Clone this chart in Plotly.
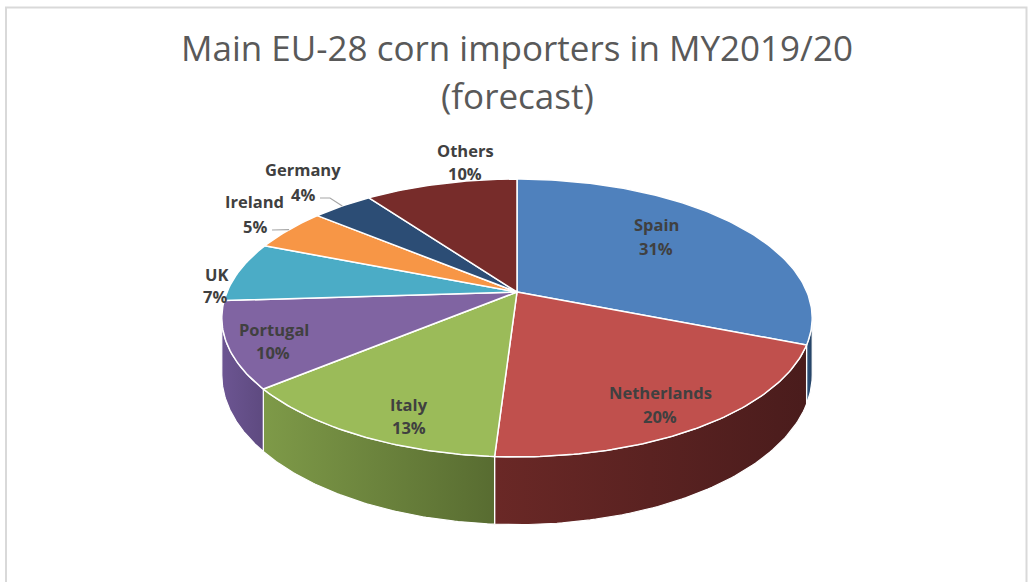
import numpy as np
import plotly.graph_objects as go

# ---------------- data ----------------
countries = ["Spain", "Netherlands", "Italy", "Portugal", "UK", "Ireland", "Germany", "Others"]
shares = [31, 20, 13, 10, 7, 5, 4, 10]          # % of EU-28 corn imports, MY2019/20 forecast

# ---------------- style ----------------
top_colors = ["#4F81BD", "#C0504D", "#9BBB59", "#8064A2", "#4BACC6", "#F79646", "#2C4D75", "#772C2A"]
side_light = ["#2f5580", "#6a2826", "#7e9a48", "#6c5592", "#3a8aa0", "#c7762f", "#22405f", "#5a2120"]
side_dark = ["#233f60", "#4a1c1c", "#586c31", "#5e4a80", "#2e6f80", "#a0602a", "#1a3048", "#451818"]

# label positions (pixel layout of the Excel-style labels)
name_pos = [(656, 224), (660, 392), (409, 404), (274, 329), (216, 274), (254, 201), (303, 169), (465, 150)]
pct_pos = [(656, 248), (660, 416), (409, 427), (273, 352), (215, 296), (255, 226), (303, 194), (465, 173)]
leader = [False, False, False, False, False, True, True, False]

# 3-D pie geometry (perspective ellipse)
CX, CY = 517.0, 292.0
A, B, K = 290.0, 134.1, 0.187
DEPTH = 55.0
W, H = 1028, 582


def proj(theta, r=1.0, dz=0.0):
    theta = np.asarray(theta, dtype=float)
    u = r * np.sin(theta)
    v = r * np.cos(theta)
    w = 1.0 + K * v
    return CX + A * u / w, CY - B * v / w + dz / w


total = float(sum(shares))
cum = np.concatenate([[0.0], np.cumsum(shares)]) / total * 2 * np.pi
th_r = np.arccos(-K)            # right silhouette
th_l = 2 * np.pi - th_r         # left silhouette

fig = go.Figure()

# side walls (front half only)
for i, name in enumerate(countries):
    a, b = cum[i], cum[i + 1]
    lo, hi = max(a, th_r), min(b, th_l)
    if hi <= lo:
        continue
    th = np.linspace(lo, hi, 80)
    tx, ty = proj(th, 1.0, 0.0)
    bx, by = proj(th, 1.0, DEPTH)
    xs = np.concatenate([tx, bx[::-1], tx[:1]])
    ys = np.concatenate([ty, by[::-1], ty[:1]])
    fig.add_trace(go.Scatter(
        x=xs, y=ys, mode="lines", fill="toself",
        fillgradient=dict(type="horizontal",
                          colorscale=[[0, side_light[i]], [1, side_dark[i]]]),
        line=dict(color="white", width=1.2),
        hoverinfo="skip", showlegend=False))

# top faces
for i, name in enumerate(countries):
    a, b = cum[i], cum[i + 1]
    n = max(3, int((b - a) / (2 * np.pi) * 400))
    th = np.linspace(a, b, n)
    ax_, ay_ = proj(th, 1.0, 0.0)
    xs = np.concatenate([[CX], ax_, [CX]])
    ys = np.concatenate([[CY], ay_, [CY]])
    fig.add_trace(go.Scatter(
        x=xs, y=ys, mode="lines", fill="toself", fillcolor=top_colors[i],
        line=dict(color="white", width=1.5),
        name=name, text=f"{name}: {shares[i] / total * 100:.0f}%",
        hoverinfo="text", hoveron="fills", showlegend=False))

# leader lines for small slices
for i, name in enumerate(countries):
    if not leader[i]:
        continue
    mid = (cum[i] + cum[i + 1]) / 2
    ex, ey = proj(mid, 1.0, 0.0)
    sx, sy = pct_pos[i][0] + 17, pct_pos[i][1] + 4
    fig.add_trace(go.Scatter(
        x=[sx, sx + 10, float(ex)], y=[sy, sy, float(ey)], mode="lines",
        line=dict(color="#a6a6a6", width=1.2), hoverinfo="skip", showlegend=False))

label_font = dict(family="Open Sans", size=16.5, color="#404040", weight="bold")
annotations = []
for i, name in enumerate(countries):
    pct = f"{round(shares[i] / total * 100):.0f}%"
    annotations.append(dict(x=name_pos[i][0], y=name_pos[i][1], text=name, showarrow=False,
                            xref="x", yref="y", xanchor="center", yanchor="middle", font=label_font))
    annotations.append(dict(x=pct_pos[i][0], y=pct_pos[i][1], text=pct, showarrow=False,
                            xref="x", yref="y", xanchor="center", yanchor="middle", font=label_font))

title_font = dict(family="Open Sans", size=35, color="#595959", weight=400)
annotations.append(dict(x=517, y=47, text="Main EU-28 corn importers in MY2019/20", showarrow=False,
                        xref="x", yref="y", xanchor="center", yanchor="middle", font=title_font))
annotations.append(dict(x=517, y=95, text="(forecast)", showarrow=False,
                        xref="x", yref="y", xanchor="center", yanchor="middle", font=title_font))

fig.update_layout(
    width=W, height=H,
    margin=dict(l=0, r=0, t=0, b=0),
    paper_bgcolor="white", plot_bgcolor="white",
    xaxis=dict(range=[0, W], visible=False, fixedrange=True),
    yaxis=dict(range=[H, 0], visible=False, fixedrange=True),
    annotations=annotations,
    shapes=[dict(type="rect", xref="x", yref="y", x0=6, y0=7.5, x1=1026.5, y1=600,
                 line=dict(color="#d9d9d9", width=2), fillcolor="rgba(0,0,0,0)", layer="below")],
)

fig.write_html("out.html")
